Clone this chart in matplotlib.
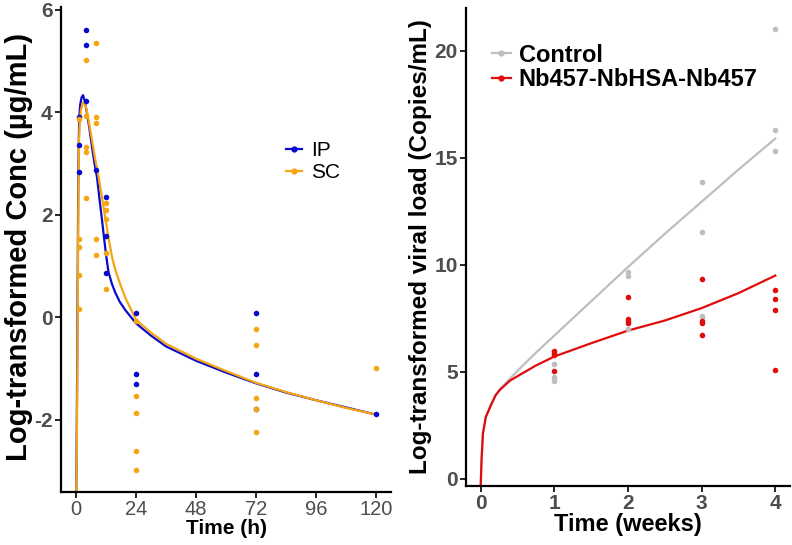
import matplotlib
matplotlib.use("Agg")
import matplotlib.pyplot as plt
from matplotlib.lines import Line2D

plt.rcParams['font.family'] = ['Liberation Sans', 'DejaVu Sans']

# ---------------- Left panel data (PK) ----------------
ip_t = [1, 1, 1, 4, 4, 4, 8, 12, 12, 12, 24, 24, 24, 72, 72, 72, 120]
ip_v = [3.9, 3.35, 2.83, 5.6, 5.3, 4.22, 2.87, 2.35, 1.59, 0.87,
        0.09, -1.11, -1.3, 0.09, -1.11, -1.8, -1.88]
sc_t = [1, 1, 1, 1, 1, 4, 4, 4, 4, 4, 8, 8, 8, 8, 8, 12, 12, 12, 12, 12,
        24, 24, 24, 24, 24, 72, 72, 72, 72, 72, 120]
sc_v = [3.86, 1.52, 1.36, 0.83, 0.16, 5.02, 3.92, 3.31, 3.22, 2.32,
        5.34, 3.9, 3.79, 1.52, 1.21, 2.23, 2.1, 1.92, 1.26, 0.54,
        -0.07, -1.54, -1.87, -2.61, -2.98, -0.24, -0.55, -1.58, -1.8, -2.24, -1.0]

ip_fit_t = [0.1, 0.4, 0.7, 0.9, 1.1, 1.3, 1.7, 2.2, 2.8, 3.5, 4.3, 5.3, 6.4, 7.4,
            8.4, 9.4, 10.4, 11.2, 12.2, 13, 14.3, 15.7, 17.5, 19.7, 22, 24,
            30, 36, 48, 60, 72, 84, 96, 108, 120]
ip_fit_v = [-3.6, -1.5, 1.0, 2.6, 3.4, 3.9, 4.15, 4.28, 4.33, 4.22, 4.0, 3.7, 3.32, 3.0,
            2.73, 2.3, 1.9, 1.55, 1.15, 0.88, 0.66, 0.48, 0.3, 0.14, 0.0, -0.12,
            -0.36, -0.57, -0.85, -1.08, -1.29, -1.47, -1.62, -1.76, -1.9]
sc_fit_t = [0.1, 0.5, 0.8, 1.0, 1.2, 1.5, 2.0, 2.5, 3.1, 4.0, 5.0, 6.4, 7.6,
            9.0, 10.5, 12, 13, 14.5, 16, 18, 20, 22, 24,
            30, 36, 48, 60, 72, 84, 96, 108, 120]
sc_fit_v = [-3.6, -1.5, 1.0, 2.6, 3.4, 3.8, 4.05, 4.15, 4.2, 4.1, 3.85, 3.45, 3.1,
            2.75, 2.3, 1.85, 1.55, 1.15, 0.88, 0.6, 0.35, 0.15, -0.05,
            -0.3, -0.52, -0.81, -1.05, -1.28, -1.46, -1.62, -1.77, -1.9]

# ---------------- Right panel data (viral load) ----------------
ctrl_w = [1, 1, 1, 1, 2, 2, 2, 3, 3, 3, 3, 4, 4, 4]
ctrl_v = [5.36, 4.78, 4.66, 4.58, 9.66, 9.5, 7.02, 13.86, 11.53, 7.62, 7.55, 21.0, 16.3, 15.33]
nb_w = [1, 1, 1, 1, 2, 2, 2, 2, 3, 3, 3, 3, 4, 4, 4, 4]
nb_v = [5.98, 5.9, 5.79, 5.03, 8.49, 7.49, 7.4, 7.3, 9.33, 7.38, 7.3, 6.71, 8.83, 8.41, 7.9, 5.09]

ctrl_fit_w = [0, 0.01, 0.03, 0.07, 0.14, 0.2, 0.26, 0.5, 0.75, 1, 1.5, 2, 2.5, 3, 3.5, 4]
ctrl_fit_v = [-0.3, 0.8, 2.13, 2.9, 3.46, 3.9, 4.2, 5.05, 5.9, 6.7, 8.3, 9.9, 11.45, 12.95, 14.45, 15.9]
nb_fit_w = [0, 0.01, 0.03, 0.07, 0.14, 0.2, 0.26, 0.4, 0.53, 0.75, 1.0, 1.5, 2, 2.5, 3, 3.5, 4]
nb_fit_v = [-0.3, 0.8, 2.13, 2.9, 3.46, 3.9, 4.16, 4.6, 4.86, 5.3, 5.72, 6.34, 6.93, 7.4, 7.98, 8.68, 9.5]

left_xticks = [0, 24, 48, 72, 96, 120]
left_yticks = [-2, 0, 2, 4, 6]
right_xticks = [0, 1, 2, 3, 4]
right_yticks = [0, 5, 10, 15, 20]

BLUE = '#0A0ACD'
ORANGE = '#F5A511'
GREY = '#BEBEBE'
RED = '#E00C0C'
TICKC = '#4D4D4D'

fig = plt.figure(figsize=(7.92, 5.45), dpi=100)
ax1 = fig.add_axes([61/792, 1 - 492/545, 330/792, 485/545])
ax2 = fig.add_axes([466/792, 1 - 486/545, 324/792, 478/545])

for ax in (ax1, ax2):
    for s in ('top', 'right'):
        ax.spines[s].set_visible(False)
    for s in ('left', 'bottom'):
        ax.spines[s].set_linewidth(1.6)
        ax.spines[s].set_color('black')
    ax.tick_params(direction='out', length=4, width=1.2, color='black', pad=2)

# Left panel
ax1.scatter(ip_t, ip_v, s=16, color=BLUE, zorder=3, linewidths=0)
ax1.scatter(sc_t, sc_v, s=16, color=ORANGE, zorder=4, linewidths=0)
ax1.plot(ip_fit_t, ip_fit_v, color=BLUE, lw=1.6, zorder=2)
ax1.plot(sc_fit_t, sc_fit_v, color=ORANGE, lw=1.6, zorder=2.5)
ax1.set_xlim(-6, 126)
ax1.set_ylim(-3.41, 6.05)
ax1.set_xticks(left_xticks)
ax1.set_yticks(left_yticks)
ax1.set_xticklabels([str(v) for v in left_xticks], fontsize=14.5, color=TICKC)
ax1.set_yticklabels([str(v) for v in left_yticks], fontsize=15, color=TICKC, fontweight='bold')
ax1.set_xlabel('Time (h)', fontsize=15, fontweight='bold', labelpad=0)
ax1.set_ylabel('Log-transformed Conc (\u00b5g/mL)', fontsize=21, fontweight='bold')
ax1.yaxis.set_label_coords(-0.085, 0.505)

h1 = [Line2D([], [], color=BLUE, lw=1.6, marker='o', markersize=3.5),
      Line2D([], [], color=ORANGE, lw=1.6, marker='o', markersize=3.5)]
ax1.legend(h1, ['IP', 'SC'], loc='upper left', bbox_to_anchor=(0.657, 0.74),
           frameon=False, fontsize=15, handlelength=0.75, handletextpad=0.45,
           labelspacing=0.12, borderaxespad=0)

# Right panel
ax2.scatter(ctrl_w, ctrl_v, s=16, color=GREY, zorder=3, linewidths=0)
ax2.scatter(nb_w, nb_v, s=16, color=RED, zorder=4, linewidths=0)
ax2.plot(ctrl_fit_w, ctrl_fit_v, color=GREY, lw=1.6, zorder=2)
ax2.plot(nb_fit_w, nb_fit_v, color=RED, lw=1.6, zorder=2.5)
ax2.set_xlim(-0.2, 4.2)
ax2.set_ylim(-0.33, 22.0)
ax2.set_xticks(right_xticks)
ax2.set_yticks(right_yticks)
ax2.set_xticklabels([str(v) for v in right_xticks], fontsize=15, color=TICKC, fontweight='bold')
ax2.set_yticklabels([str(v) for v in right_yticks], fontsize=15, color=TICKC, fontweight='bold')
ax2.set_xlabel('Time (weeks)', fontsize=17, fontweight='bold', labelpad=0)
ax2.set_ylabel('Log-transformed viral load (Copies/mL)', fontsize=17.5, fontweight='bold')
ax2.yaxis.set_label_coords(-0.105, 0.5)

h2 = [Line2D([], [], color=GREY, lw=1.6, marker='o', markersize=3.5),
      Line2D([], [], color=RED, lw=1.6, marker='o', markersize=3.5)]
ax2.legend(h2, ['Control', 'Nb457-NbHSA-Nb457'], loc='upper left',
           bbox_to_anchor=(0.05, 0.945), frameon=False,
           prop={'size': 17, 'weight': 'bold'}, handlelength=0.8, handletextpad=0.35,
           labelspacing=0.05, borderaxespad=0)

fig.savefig('out.png', dpi=100)
